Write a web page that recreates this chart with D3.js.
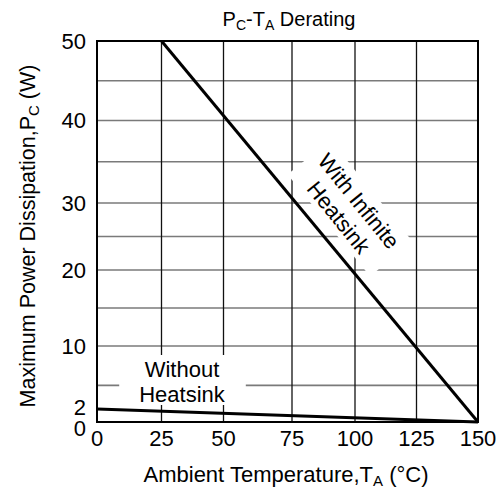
<!DOCTYPE html>
<html>
<head>
<meta charset="utf-8">
<script src="https://cdn.jsdelivr.net/npm/d3@7"></script>
<style>
  body { margin: 0; background: #fff; }
  text { font-family: "Liberation Sans", Arial, sans-serif; fill: #000; }
</style>
</head>
<body>
<div id="chart"></div>
<script>
// chart data
const tempTicks = [0, 25, 50, 75, 100, 125, 150];
const powerTicks = [0, 2, 10, 20, 30, 40, 50];
const powerGrid = [5, 10, 15, 20, 25, 30, 35, 40, 45];
const infiniteTemp = [25, 150];
const infinitePower = [50, 0];
const noSinkTemp = [0, 150];
const noSinkPower = [2, 0];

const width = 502, height = 494;

const svg = d3.select("#chart").append("svg")
    .attr("width", width).attr("height", height);

// the printed grid is slightly uneven, so the scales are piecewise
const x = d3.scaleLinear()
    .domain(tempTicks)
    .range([97, 161.5, 223.5, 292, 355, 416.5, 478]);
const y = d3.scaleLinear()
    .domain([0, 2, 10, 20, 30, 40, 50])
    .range([422, 409, 346, 270, 203, 120.5, 41]);

const plotLeft = x(0), plotRight = x(150), plotTop = y(50), plotBottom = y(0);

// grid
svg.append("g").selectAll("line")
    .data(powerGrid).enter().append("line")
    .attr("x1", plotLeft).attr("x2", plotRight)
    .attr("y1", d => y(d)).attr("y2", d => y(d))
    .attr("stroke", "#7a7a7a").attr("stroke-width", 1.6);

svg.append("g").selectAll("line")
    .data(tempTicks.slice(1, -1)).enter().append("line")
    .attr("x1", d => x(d)).attr("x2", d => x(d))
    .attr("y1", plotTop).attr("y2", plotBottom)
    .attr("stroke", "#111").attr("stroke-width", 1.3);

// white label backings
const labels = svg.append("g");

const without = labels.append("text")
    .attr("text-anchor", "middle").style("font-size", "22px");
without.append("tspan").attr("x", 182).attr("y", 377).text("Without");
without.append("tspan").attr("x", 182).attr("y", 402).text("Heatsink");

const withG = labels.append("g")
    .attr("transform", "translate(349,209) rotate(51)");
const withText = withG.append("text")
    .attr("text-anchor", "middle").style("font-size", "22px");
withText.append("tspan").attr("x", 0).attr("y", -5).text("With Infinite");
withText.append("tspan").attr("x", 0).attr("y", 21).text("Heatsink");

const wb = without.node().getBBox();
labels.insert("rect", "text")
    .attr("x", wb.x - 20).attr("y", wb.y - 2)
    .attr("width", wb.width + 40).attr("height", wb.height)
    .attr("fill", "#fff");

const ib = withText.node().getBBox();
withG.insert("rect", "text")
    .attr("x", ib.x - 8).attr("y", ib.y - 4)
    .attr("width", ib.width + 16).attr("height", ib.height + 4)
    .attr("fill", "#fff");

// derating curves
const line = d3.line().x(d => x(d[0])).y(d => y(d[1]));

svg.append("path")
    .datum(d3.zip(infiniteTemp, infinitePower))
    .attr("d", line)
    .attr("fill", "none").attr("stroke", "#000").attr("stroke-width", 3);

svg.append("path")
    .datum(d3.zip(noSinkTemp, noSinkPower))
    .attr("d", line)
    .attr("fill", "none").attr("stroke", "#000").attr("stroke-width", 3);

// frame
svg.append("rect")
    .attr("x", plotLeft).attr("y", plotTop)
    .attr("width", plotRight - plotLeft).attr("height", plotBottom - plotTop)
    .attr("fill", "none").attr("stroke", "#000").attr("stroke-width", 2);

// tick labels
svg.append("g").selectAll("text")
    .data(tempTicks).enter().append("text")
    .attr("x", d => x(d)).attr("y", 446)
    .attr("text-anchor", "middle").style("font-size", "22px")
    .text(d => d);

svg.append("g").selectAll("text")
    .data(powerTicks).enter().append("text")
    .attr("x", 86).attr("y", d => y(d) + (d === 0 ? 6 : d === 2 ? -2 : 0))
    .attr("dy", "0.35em")
    .attr("text-anchor", "end").style("font-size", "22px")
    .text(d => d);

// titles
const title = svg.append("text")
    .attr("x", 289).attr("y", 26)
    .attr("text-anchor", "middle").style("font-size", "20px");
title.append("tspan").text("P");
title.append("tspan").attr("dy", 4).style("font-size", "14px").text("C");
title.append("tspan").attr("dy", -4).text("-T");
title.append("tspan").attr("dy", 4).style("font-size", "14px").text("A");
title.append("tspan").attr("dy", -4).text(" Derating");

const xTitle = svg.append("text")
    .attr("x", 286).attr("y", 482)
    .attr("text-anchor", "middle").style("font-size", "22px");
xTitle.append("tspan").text("Ambient Temperature,T");
xTitle.append("tspan").attr("dy", 4).style("font-size", "15px").text("A");
xTitle.append("tspan").attr("dy", -4).text(" (°C)");

const yTitle = svg.append("text")
    .attr("transform", "translate(35,236) rotate(-90)")
    .attr("text-anchor", "middle").style("font-size", "21.5px");
yTitle.append("tspan").text("Maximum Power Dissipation,P");
yTitle.append("tspan").attr("dy", 4).style("font-size", "15px").text("C");
yTitle.append("tspan").attr("dy", -4).text(" (W)");
</script>
</body>
</html>
